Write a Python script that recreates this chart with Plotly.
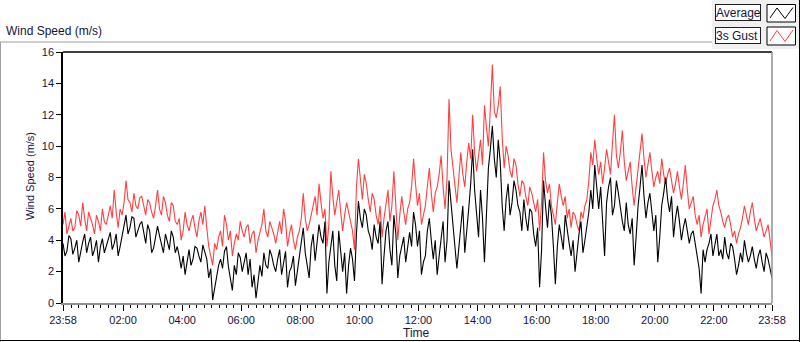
import plotly.graph_objects as go
import pandas as pd

# ---- data (m/s), sampled every 4 minutes from 23:58 ----
average = [
    3.8, 3.0, 3.3, 4.3, 4.1, 3.1, 3.5, 4.0, 2.6, 3.4, 3.9, 4.4, 3.2, 3.8, 4.2, 3.0, 3.4, 4.0, 2.6, 3.6,
    4.1, 3.2, 3.6, 4.0, 4.5, 3.4, 3.8, 4.4, 3.0, 3.6, 4.2, 4.9, 5.6, 4.4, 4.8, 5.5, 5.4, 4.2, 4.6, 5.0,
    5.2, 4.4, 3.8, 5.0, 4.6, 3.2, 3.5, 4.2, 4.9, 4.3, 3.8, 3.2, 4.4, 3.8, 3.4, 4.6, 4.2, 3.2, 3.6, 3.0,
    2.2, 3.0, 1.8, 2.6, 3.4, 2.4, 2.8, 3.6, 3.5, 3.0, 2.6, 3.7, 3.3, 2.8, 1.6, 2.2, 0.2, 1.0, 1.5, 2.4,
    2.8, 2.2, 3.3, 3.6, 2.3, 1.6, 0.8, 2.4, 1.8, 3.2, 2.9, 2.0,
    2.6, 3.2, 1.8, 2.8, 1.0, 1.8, 0.3, 1.4, 2.4, 1.7, 3.2, 2.4, 2.2, 3.4, 3.0, 2.4, 2.0, 2.8, 3.4, 1.8,
    2.5, 3.3, 1.0, 2.0, 2.3, 3.0, 1.1, 2.0, 2.8, 3.6, 4.8, 3.2, 2.4, 1.6, 3.6, 4.4, 2.7, 3.8, 5.0, 4.2,
    3.8, 5.2, 0.6, 2.6, 3.8, 4.6, 2.4, 1.4, 4.6, 3.4, 2.0, 3.2, 0.6, 2.4, 3.5, 2.8, 1.4, 4.4, 6.5, 5.4,
    4.8, 6.0, 5.6, 4.6, 4.2, 3.4, 5.0, 4.2, 3.8, 5.2, 1.2, 3.0, 4.6, 5.2, 3.4, 2.4, 5.6, 4.4, 1.6, 3.0,
    3.6, 4.2, 2.6, 3.4, 4.5, 3.6, 5.8, 5.0, 3.6, 4.6, 1.8, 2.6,
    3.0, 4.6, 5.4, 4.0, 2.8, 4.0, 1.8, 3.0, 4.2, 5.2, 2.6, 4.0, 7.8, 6.2, 5.0, 3.6, 2.2, 3.6, 4.8, 6.2,
    3.2, 4.4, 6.0, 7.6, 9.8, 7.2, 5.6, 4.2, 7.2, 5.4, 2.6, 5.2, 8.6, 9.8, 11.3, 9.2, 8.0, 10.4, 9.0, 6.2,
    4.6, 6.6, 7.6, 5.6, 6.4, 7.8, 7.2, 6.2, 5.8, 4.6, 6.6, 5.4, 4.6, 6.0, 5.8, 4.4, 3.6, 4.8, 1.0, 3.4,
    7.8, 6.2, 4.8, 6.6, 5.6, 3.6, 1.2, 3.6, 5.0, 4.2, 3.4, 5.6, 4.6, 3.8, 3.0, 4.0, 2.0, 3.4, 4.4, 5.2,
    3.2, 4.0, 5.0, 5.8, 7.2, 6.0, 8.8, 7.2, 6.0, 7.4, 5.0, 3.0,
    6.4, 7.4, 8.0, 5.6, 6.2, 7.8, 7.0, 6.0, 5.2, 4.6, 6.4, 5.0, 4.4, 5.4, 2.4, 4.2, 6.2, 7.4, 8.8, 6.8,
    5.4, 6.4, 7.0, 5.8, 4.6, 5.6, 2.6, 4.2, 6.2, 7.0, 8.0, 6.6, 5.8, 6.8, 4.2, 5.4, 6.2, 5.2, 4.0, 4.8,
    5.4, 4.6, 3.8, 4.4, 4.6, 3.8, 3.0, 2.2, 0.6, 3.4, 2.6, 3.4, 3.8, 4.4, 3.0, 3.6, 4.4, 3.0, 3.4, 2.8,
    4.2, 3.2, 2.8, 3.8, 3.6, 2.8, 1.8, 2.4, 3.2, 2.6, 4.0, 3.2, 2.6, 3.0, 3.6, 2.8, 2.2, 3.0, 3.4, 2.6,
    2.0, 3.2, 2.8, 2.2, 1.6,
]
gust = [
    5.0, 5.8, 4.4, 5.0, 5.4, 4.6, 4.8, 5.9, 5.6, 4.9, 6.4, 5.4, 4.6, 5.8, 5.4, 5.0, 4.4, 5.6, 5.2, 4.6,
    6.0, 5.2, 5.0, 5.7, 6.2, 5.4, 7.2, 5.8, 4.8, 6.0, 5.6, 6.4, 7.8, 6.6, 6.4, 5.8, 7.0, 6.2, 6.0, 6.7,
    6.8, 6.2, 5.6, 6.6, 6.4, 5.8, 5.4, 6.2, 7.2, 6.0, 5.6, 6.8, 6.4, 5.6, 5.2, 6.4, 6.2, 5.2, 5.0, 5.4,
    4.0, 4.6, 5.8, 5.0, 4.6, 5.2, 5.6, 4.8, 4.2, 5.2, 5.8, 5.0, 6.2, 4.8, 3.6, 3.0, 2.4, 3.8, 3.4, 4.2,
    4.6, 3.6, 5.6, 5.0, 4.0, 4.6, 3.0, 3.8, 4.4, 4.0, 5.2, 4.6,
    4.2, 4.8, 5.0, 3.8, 4.4, 4.6, 3.2, 4.0, 4.6, 5.0, 6.0, 4.6, 4.2, 5.2, 4.8, 4.4, 3.8, 4.6, 5.2, 4.4,
    6.0, 5.2, 3.6, 4.4, 5.0, 4.0, 3.4, 4.2, 4.6, 5.4, 7.0, 5.4, 4.6, 5.0, 5.6, 6.2, 6.8, 5.6, 7.6, 6.4,
    5.4, 6.0, 3.6, 5.0, 8.4, 6.8, 5.6, 6.4, 7.2, 5.8, 4.6, 5.6, 6.4, 5.8, 5.2, 4.6, 3.4, 7.4, 9.2, 7.8,
    6.6, 8.2, 7.6, 6.6, 5.8, 7.0, 6.6, 5.6, 5.0, 6.2, 4.2, 5.4, 6.4, 7.2, 5.2, 6.2, 8.4, 6.4, 4.0, 5.6,
    6.8, 5.8, 5.0, 6.0, 6.4, 7.4, 9.2, 7.6, 6.2, 7.0, 5.0, 5.6,
    6.2, 7.4, 8.6, 7.0, 5.8, 7.0, 7.4, 8.2, 9.4, 7.4, 6.0, 8.0, 13.0, 9.8, 8.6, 7.6, 6.4, 8.0, 9.6, 8.2,
    7.4, 9.0, 10.2, 9.2, 12.0, 9.6, 8.4, 9.4, 10.4, 8.8, 12.6, 11.2, 10.0, 12.4, 15.2, 12.2, 11.8, 12.6, 13.8, 10.6,
    8.6, 10.0, 9.4, 8.4, 8.0, 9.2, 8.8, 7.6, 6.8, 7.8, 7.6, 6.8, 6.2, 7.4, 7.0, 6.4, 5.8, 6.6, 4.6, 6.4,
    9.6, 7.8, 7.0, 7.6, 6.2, 5.6, 5.0, 6.4, 7.6, 6.8, 6.2, 6.8, 5.4, 6.0, 4.8, 5.8, 5.6, 5.0, 4.6, 5.8,
    5.4, 6.2, 6.6, 7.8, 9.6, 8.8, 10.4, 9.2, 8.2, 9.0, 7.6, 8.6,
    9.8, 9.0, 8.2, 10.2, 12.0, 9.4, 8.6, 9.6, 11.0, 9.0, 7.8, 8.4, 9.0, 7.4, 6.2, 7.4, 8.6, 9.4, 10.8, 9.2,
    8.0, 8.8, 9.6, 8.4, 7.4, 8.0, 8.4, 7.6, 9.2, 8.2, 7.6, 8.2, 8.6, 7.8, 7.0, 7.6, 8.4, 7.4, 6.6, 7.6,
    8.8, 7.2, 6.0, 6.4, 6.8, 5.6, 5.0, 5.6, 4.2, 5.0, 5.6, 6.0, 4.4, 5.4, 6.2, 6.6, 7.2, 6.2, 5.8, 5.2,
    4.8, 5.4, 5.6, 5.0, 4.2, 4.6, 3.8, 4.4, 4.8, 5.4, 6.2, 5.6, 5.0, 5.8, 6.4, 5.4, 4.6, 5.0, 5.4, 4.8,
    4.2, 4.6, 5.0, 4.0, 3.0,
]
sample_minutes = 4
tick_labels = ["23:58", "02:00", "04:00", "06:00", "08:00", "10:00", "12:00",
               "14:00", "16:00", "18:00", "20:00", "22:00", "23:58"]
y_ticks = [0, 2, 4, 6, 8, 10, 12, 14, 16]

start = pd.Timestamp("2024-01-01 23:58")
end = start + pd.Timedelta(days=1)
times = [start + pd.Timedelta(minutes=sample_minutes * i) for i in range(len(average))]
times_g = [start + pd.Timedelta(minutes=sample_minutes * i) for i in range(len(gust))]
tick_vals = [start] + [pd.Timestamp("2024-01-02 02:00") + pd.Timedelta(hours=2 * k) for k in range(11)] + [end]

FONT = "Liberation Sans"
TXT = "#14143c"

fig = go.Figure()
fig.add_trace(go.Scatter(x=times_g, y=gust, mode="lines", name="3s Gust",
                         line=dict(color="#ff4040", width=1.1), showlegend=False, hoverinfo="skip"))
fig.add_trace(go.Scatter(x=times, y=average, mode="lines", name="Average",
                         line=dict(color="#000000", width=1.1), showlegend=False, hoverinfo="skip"))

# plot area geometry in pixels
L, R, T, B = 63, 772, 52, 303
W, H = R - L, B - T
def px(x):
    return (x - L) / W
def py(y):
    return (B - y) / H

shapes = []
shapes.append(dict(type="rect", xref="paper", yref="paper", x0=px(712), x1=px(800), y0=py(49), y1=py(0),
                   fillcolor="#f0f0f0", line=dict(width=0), layer="below"))
shapes.append(dict(type="line", xref="paper", yref="paper", x0=px(0), x1=px(712), y0=py(42), y1=py(42),
                   line=dict(color="#a0a0a0", width=1)))
shapes.append(dict(type="line", xref="paper", yref="paper", x0=px(0.5), x1=px(0.5), y0=py(42), y1=py(342),
                   line=dict(color="#a0a0a0", width=1)))
shapes.append(dict(type="line", xref="paper", yref="paper", x0=px(0), x1=px(800), y0=py(340.5), y1=py(340.5),
                   line=dict(color="#000000", width=1)))
shapes.append(dict(type="line", xref="paper", yref="paper", x0=px(799.5), x1=px(799.5), y0=py(0), y1=py(342),
                   line=dict(color="#000000", width=1)))
shapes.append(dict(type="line", xref="paper", yref="paper", x0=0, x1=1, y0=1, y1=1,
                   line=dict(color="#000000", width=1.5)))
shapes.append(dict(type="line", xref="paper", yref="paper", x0=1, x1=1, y0=0, y1=1,
                   line=dict(color="#909090", width=1.5)))

for (y0, y1, col) in [(4.5, 22, "#000000"), (27, 45, "#ff4040")]:
    shapes.append(dict(type="rect", xref="paper", yref="paper", x0=px(767), x1=px(795.5), y0=py(y1), y1=py(y0),
                       fillcolor="#ffffff", line=dict(color="#000000", width=1)))
    pts = [(770, y1 - 4), (777, y0 + 3.5), (785, y1 - 3.5), (793, y0 + 3)]
    path = "M " + " L ".join(f"{px(a):.5f},{py(b):.5f}" for a, b in pts)
    shapes.append(dict(type="path", xref="paper", yref="paper", path=path,
                       line=dict(color=col, width=1)))

annotations = [
    dict(text="Wind Speed (m/s)", xref="paper", yref="paper", x=px(4), y=py(31), xanchor="left", yanchor="middle",
         showarrow=False, font=dict(family=FONT, size=12, color=TXT)),
    dict(text="Average", xref="paper", yref="paper", x=px(715), y=py(4.5), xanchor="left", yanchor="top",
         showarrow=False, font=dict(family=FONT, size=12, color=TXT), bgcolor="#ffffff",
         bordercolor="#202020", borderwidth=1, borderpad=0, width=44, height=15, align="left"),
    dict(text="3s Gust", xref="paper", yref="paper", x=px(715), y=py(27), xanchor="left", yanchor="top",
         showarrow=False, font=dict(family=FONT, size=12, color=TXT), bgcolor="#ffffff",
         bordercolor="#202020", borderwidth=1, borderpad=0, width=44, height=15, align="left"),
    dict(text="Wind Speed (m/s)", xref="paper", yref="paper", x=px(30), y=py(176), xanchor="center", yanchor="middle",
         textangle=-90, showarrow=False, font=dict(family=FONT, size=11, color=TXT)),
    dict(text="Time", xref="paper", yref="paper", x=px(416), y=py(333), xanchor="center", yanchor="middle",
         showarrow=False, font=dict(family=FONT, size=12, color=TXT)),
]

fig.update_layout(
    width=800, height=342,
    margin=dict(l=L, r=800 - R, t=T, b=342 - B, pad=0),
    paper_bgcolor="#ffffff", plot_bgcolor="#ffffff",
    shapes=shapes, annotations=annotations,
    font=dict(family=FONT, size=11, color=TXT),
    hovermode=False,
    xaxis=dict(type="date", range=[start, end], tickvals=tick_vals, ticktext=tick_labels,
               ticks="outside", ticklen=6, tickcolor="#000000", tickwidth=1,
               showgrid=False, zeroline=False, showline=True, linecolor="#909090", linewidth=1.5,
               tickfont=dict(family=FONT, size=11, color=TXT),
               minor=dict(ticks="outside", ticklen=3, tickcolor="#000000", dtick=15 * 60 * 1000,
                          tick0="2024-01-02 00:00", showgrid=False)),
    yaxis=dict(range=[0, 16], tickvals=y_ticks, ticks="outside", ticklen=5, tickcolor="#000000",
               showgrid=False, zeroline=False, showline=True, linecolor="#000000", linewidth=1.5,
               tickfont=dict(family=FONT, size=11, color=TXT)),
)

fig.write_html("out.html", config={"displayModeBar": False},
               post_script="document.body.style.margin='0';document.body.style.overflow='hidden';")
